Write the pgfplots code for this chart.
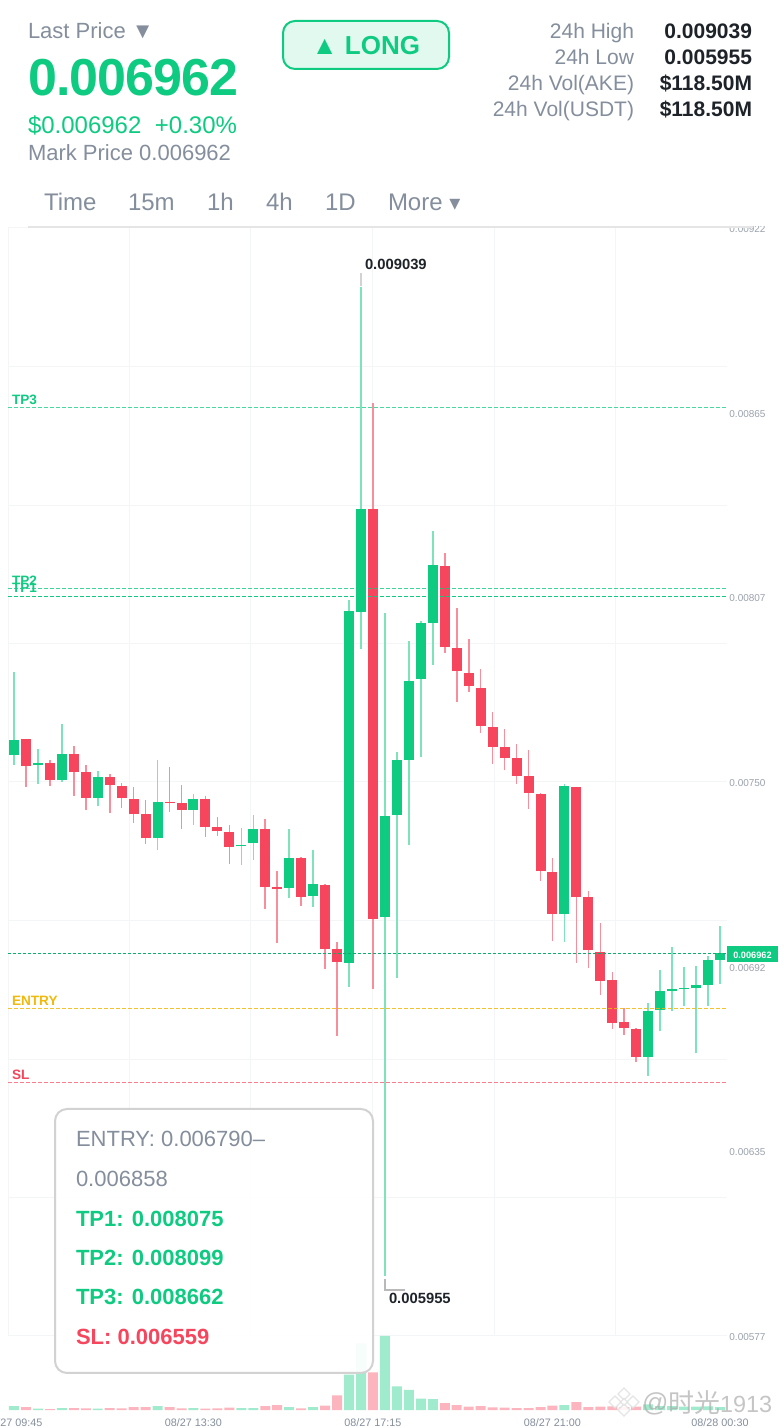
\documentclass[border=0pt]{standalone}
\usepackage{pgfplots}
\usepackage{pgfplotstable}
\usepackage{fontspec}
\pgfplotsset{compat=1.18}
\setmainfont{Liberation Sans}
\newfontfamily\cjk{Noto Sans CJK SC}
\newfontfamily\sym{DejaVu Sans}

\definecolor{upc}{HTML}{0ECB81}
\definecolor{dnc}{HTML}{F6465D}
\definecolor{upwick}{HTML}{7CE3BB}
\definecolor{dnwick}{HTML}{F88E9C}
\definecolor{upvol}{HTML}{A0EBCD}
\definecolor{dnvol}{HTML}{FCB5BE}
\definecolor{gridc}{HTML}{F4F5F7}
\definecolor{txtgray}{HTML}{848E9C}
\definecolor{ticktxt}{HTML}{9AA1AC}
\definecolor{dark}{HTML}{1E2329}
\definecolor{gold}{HTML}{F0B90B}

% one px of the reference is 0.5pt here
\newcommand{\fs}[1]{\fontsize{#1}{#1}\selectfont}

\pgfplotstableread{
idx high low top bot vol
0 0.007840 0.007549 0.007627 0.007580 12
2 0.007598 0.007490 0.007555 0.007548 4
4 0.007677 0.007496 0.007584 0.007502 6
7 0.007529 0.007422 0.007511 0.007447 4
12 0.007563 0.007284 0.007433 0.007322 12
15 0.007458 0.007362 0.007443 0.007408 6
19 0.007352 0.007238 0.007300 0.007295 6
20 0.007393 0.007253 0.007348 0.007307 6
23 0.007349 0.007135 0.007258 0.007165 9
25 0.007284 0.007107 0.007178 0.007141 9
28 0.008063 0.006857 0.008030 0.006931 106
29 0.009039 0.007910 0.008346 0.008027 200
31 0.008023 0.005955 0.007390 0.007076 222
32 0.007590 0.006884 0.007565 0.007393 71
33 0.007936 0.007299 0.007812 0.007565 60
34 0.007997 0.007573 0.007992 0.007817 34
35 0.008278 0.007861 0.008171 0.007993 33
46 0.007491 0.006998 0.007484 0.007085 15
53 0.006806 0.006581 0.006782 0.006638 17
54 0.006909 0.006720 0.006844 0.006785 12
55 0.006981 0.006783 0.006850 0.006846 12
56 0.006919 0.006799 0.006854 0.006851 10
57 0.006922 0.006650 0.006863 0.006853 10
58 0.006953 0.006799 0.006940 0.006863 11
59 0.007047 0.006866 0.006962 0.006941 9
}\upcandles

\pgfplotstableread{
idx high low top bot vol
1 0.007629 0.007479 0.007629 0.007547 9
3 0.007563 0.007483 0.007556 0.007501 3
5 0.007608 0.007452 0.007582 0.007528 6
6 0.007549 0.007409 0.007527 0.007447 5
8 0.007521 0.007400 0.007512 0.007486 6
9 0.007492 0.007416 0.007484 0.007445 5
10 0.007479 0.007368 0.007444 0.007397 9
11 0.007440 0.007303 0.007395 0.007320 9
13 0.007543 0.007402 0.007433 0.007430 9
14 0.007486 0.007349 0.007429 0.007408 5
16 0.007452 0.007325 0.007444 0.007356 4
17 0.007386 0.007328 0.007355 0.007342 5
18 0.007362 0.007241 0.007340 0.007294 7
21 0.007380 0.007100 0.007351 0.007168 12
22 0.007218 0.006993 0.007168 0.007163 15
24 0.007261 0.007110 0.007258 0.007139 5
26 0.007179 0.006914 0.007176 0.006974 13
27 0.006997 0.006705 0.006975 0.006936 44
30 0.008677 0.006851 0.008347 0.007070 113
36 0.008210 0.007899 0.008170 0.007916 21
37 0.008037 0.007746 0.007914 0.007842 15
38 0.007943 0.007778 0.007836 0.007794 10
39 0.007847 0.007649 0.007790 0.007670 12
40 0.007714 0.007552 0.007668 0.007606 8
41 0.007661 0.007533 0.007606 0.007572 7
42 0.007615 0.007489 0.007570 0.007515 6
43 0.007597 0.007412 0.007514 0.007461 6
44 0.007461 0.007188 0.007459 0.007218 9
45 0.007258 0.007000 0.007216 0.007086 13
47 0.007480 0.006932 0.007479 0.007138 24
48 0.007156 0.006915 0.007138 0.006971 9
49 0.007057 0.006831 0.006967 0.006875 10
50 0.006904 0.006726 0.006878 0.006744 11
51 0.006791 0.006707 0.006749 0.006729 9
52 0.006729 0.006624 0.006727 0.006638 10
}\downcandles

\pgfplotsset{
  chartbase/.style={
    scale only axis,
    width=359.5pt,
    xmin=-0.5, xmax=59.586,
    axis line style={draw=none},
    tick style={draw=none},
    major tick length=0pt,
    anchor=south west,
  },
  wicks/.style={
    forget plot, draw=none, mark=none,
    error bars/.cd, y dir=plus, y explicit, error mark=none,
    error bar style={line width=0.8pt, draw=#1},
  },
  bodies/.style={
    forget plot, draw=none, mark=none,
    error bars/.cd, y dir=plus, y explicit, error mark=none,
    error bar style={line width=5pt, draw=#1},
  },
}

\begin{document}
\begin{tikzpicture}
\path[use as bounding box] (0pt,0pt) rectangle (390pt,714pt);

% price panel
\begin{axis}[
    chartbase,
    at={(4pt,46pt)},
    height=554pt,
    ymin=0.005769, ymax=0.009223,
    scaled y ticks=false,
    xtick={-0.5,9.64,19.80,29.97,40.14,50.30},
    xticklabels={},
    ytick={0.005769,0.006346,0.006920,0.007496,0.008071,0.008647,0.009223},
    yticklabels={0.00577,0.00635,0.00692,0.00750,0.00807,0.00865,0.00922},
    yticklabel pos=right,
    yticklabel style={font=\fs{5}, text=ticktxt, anchor=west, xshift=1pt, yshift=-0.5pt, inner sep=0pt},
    extra y ticks={0.005769,0.006200,0.006632,0.007064,0.007496,0.007928,0.008359,0.008791,0.009223},
    extra y tick labels={},
    extra y tick style={grid=major},
    xmajorgrids,
    grid style={line width=0.5pt, color=gridc},
]
\addplot[wicks=upwick] table[x=idx, y=low, y error expr=\thisrow{high}-\thisrow{low}] {\upcandles};
\addplot[wicks=dnwick] table[x=idx, y=low, y error expr=\thisrow{high}-\thisrow{low}] {\downcandles};
\addplot[bodies=upc] table[x=idx, y=bot, y error expr=\thisrow{top}-\thisrow{bot}] {\upcandles};
\addplot[bodies=dnc] table[x=idx, y=bot, y error expr=\thisrow{top}-\thisrow{bot}] {\downcandles};
% levels
\addplot[upc, line width=0.55pt, dash pattern=on 2pt off 1pt, opacity=0.75] coordinates {(-0.5,0.008662)(59.586,0.008662)};
\addplot[upc, line width=0.55pt, dash pattern=on 2pt off 1pt, opacity=0.8] coordinates {(-0.5,0.008099)(59.586,0.008099)};
\addplot[upc, line width=0.55pt, dash pattern=on 2pt off 1pt] coordinates {(-0.5,0.008075)(59.586,0.008075)};
\addplot[gold, line width=0.6pt, dash pattern=on 2pt off 1pt, opacity=0.85] coordinates {(-0.5,0.006790)(59.586,0.006790)};
\addplot[dnc, line width=0.6pt, dash pattern=on 2pt off 1pt, opacity=0.7] coordinates {(-0.5,0.006559)(59.586,0.006559)};
\addplot[black!15!upc, line width=0.5pt, dash pattern=on 1.5pt off 1pt] coordinates {(-0.5,0.006962)(59.586,0.006962)};
\end{axis}

% volume panel
\begin{axis}[
    chartbase,
    at={(4pt,9pt)},
    height=37pt,
    ymin=0, ymax=222,
    ytick=\empty,
    xtick={0,15,30,45,59},
    xticklabels={08/27 09:45,08/27 13:30,08/27 17:15,08/27 21:00,08/28 00:30},
    xticklabel style={font=\fs{5.4}, text=txtgray, inner sep=0pt, yshift=-4.3pt},
    clip=false,
]
\addplot[ybar, bar width=5pt, bar shift=0pt, fill=upvol, draw=none] table[x=idx, y=vol] {\upcandles};
\addplot[ybar, bar width=5pt, bar shift=0pt, fill=dnvol, draw=none] table[x=idx, y=vol] {\downcandles};
\end{axis}

% page furniture, in reference px from the top left
\begin{scope}[x=0.5pt, y=-0.5pt, yshift=714pt,
    every node/.style={inner sep=0pt, outer sep=0pt, yshift=-0.5pt}]
\fill[white] (0,0) rectangle (780,226.5);
\draw[line width=1pt, color=gray!20] (28,227) -- (752,227);

\node[anchor=base west, text=txtgray, font=\fs{11}] at (28,38) {Last Price ▼};
\node[anchor=base west, text=upc, font=\fs{26}\bfseries\addfontfeature{LetterSpace=-1.8}] at (28,95) {0.006962};
\node[anchor=base west, text=upc, font=\fs{12}] at (28,133) {\$0.006962};
\node[anchor=base east, text=upc, font=\fs{12}] at (237,133) {+0.30\%};
\node[anchor=base west, text=txtgray, font=\fs{11}] at (28,160) {Mark Price 0.006962};

\draw[line width=1pt, draw=upc, fill=upc!12, rounded corners=6pt] (283,21) rectangle (449,69);
\node[anchor=base, text=upc, font=\fs{13}\bfseries] at (366,54) {▲ LONG};

\node[anchor=base east, text=txtgray, font=\fs{10.5}] at (634,38) {24h High};
\node[anchor=base east, text=txtgray, font=\fs{10.5}] at (634,64) {24h Low};
\node[anchor=base east, text=txtgray, font=\fs{10.5}] at (634,90) {24h Vol(AKE)};
\node[anchor=base east, text=txtgray, font=\fs{10.5}] at (634,116) {24h Vol(USDT)};
\node[anchor=base east, text=dark, font=\fs{10.5}\bfseries] at (752,38) {0.009039};
\node[anchor=base east, text=dark, font=\fs{10.5}\bfseries] at (752,64) {0.005955};
\node[anchor=base east, text=dark, font=\fs{10.5}\bfseries] at (752,90) {\$118.50M};
\node[anchor=base east, text=dark, font=\fs{10.5}\bfseries] at (752,116) {\$118.50M};

\node[anchor=base west, text=txtgray, font=\fs{12}] at (44,210) {Time};
\node[anchor=base west, text=txtgray, font=\fs{12}] at (128,210) {15m};
\node[anchor=base west, text=txtgray, font=\fs{12}] at (207,210) {1h};
\node[anchor=base west, text=txtgray, font=\fs{12}] at (266,210) {4h};
\node[anchor=base west, text=txtgray, font=\fs{12}] at (325,210) {1D};
\node[anchor=base west, text=txtgray, font=\fs{12}] at (388,210) {More {\sym\fs{11}▾}};

% level labels
\node[anchor=base west, text=upc, font=\fs{6.8}\bfseries] at (12,404) {TP3};
\node[anchor=base west, text=upc, font=\fs{6.8}\bfseries] at (12,585) {TP2};
\node[anchor=base west, text=upc, font=\fs{6.8}\bfseries] at (12,592) {TP1};
\node[anchor=base west, text=gold, font=\fs{6.8}\bfseries] at (12,1005) {ENTRY};
\node[anchor=base west, text=dnc, font=\fs{6.8}\bfseries] at (12,1079) {SL};

% high and low callouts
\draw[line width=0.8pt, color=gray!35] (361,273) -- (361,286);
\node[anchor=base west, text=dark, font=\fs{7.4}\bfseries] at (365,269) {0.009039};
\draw[line width=0.6pt, color=gray!55] (385,1279) -- (385,1290) -- (405,1290);
\node[anchor=base west, text=dark, font=\fs{7.4}\bfseries] at (389,1303) {0.005955};

% last price tag
\fill[upc] (727,946) rectangle (778,962);
\node[text=white, font=\fs{4.6}\bfseries] at (752.5,954.5) {0.006962};

% targets box
\draw[line width=1pt, draw=gray!35, fill=white, fill opacity=0.92, rounded corners=6pt] (55,1109) rectangle (373,1373);
\node[anchor=base west, text=txtgray, font=\fs{11}] at (76,1146) {ENTRY: 0.006790–};
\node[anchor=base west, text=txtgray, font=\fs{11}] at (76,1186) {0.006858};
\node[anchor=base west, text=upc, font=\fs{11}\bfseries] at (76,1226) {TP1: 0.008075};
\node[anchor=base west, text=upc, font=\fs{11}\bfseries] at (76,1265) {TP2: 0.008099};
\node[anchor=base west, text=upc, font=\fs{11}\bfseries] at (76,1304) {TP3: 0.008662};
\node[anchor=base west, text=dnc, font=\fs{11}\bfseries] at (76,1344) {SL: 0.006559};

% watermark
\foreach \cx/\cy/\r in {624/1394/6,615/1402/6,633/1402/6,624/1410/6,624/1402/3.5}
  \draw[line width=0.6pt, draw=gray!25, fill=white, fill opacity=0.85, draw opacity=0.8] (\cx,\cy-\r) -- (\cx+\r,\cy) -- (\cx,\cy+\r) -- (\cx-\r,\cy) -- cycle;
\begin{scope}[opacity=0.7]
\node[anchor=base west, text=gray!65, font=\fs{13}] at (642,1411) {@};
\node[anchor=base west, text=gray!65, font=\fs{13}\cjk] at (668,1412) {时光};
\node[anchor=base west, text=gray!65, font=\fs{11.7}] at (720,1412) {1913};
\end{scope}
\end{scope}
\end{tikzpicture}
\end{document}
